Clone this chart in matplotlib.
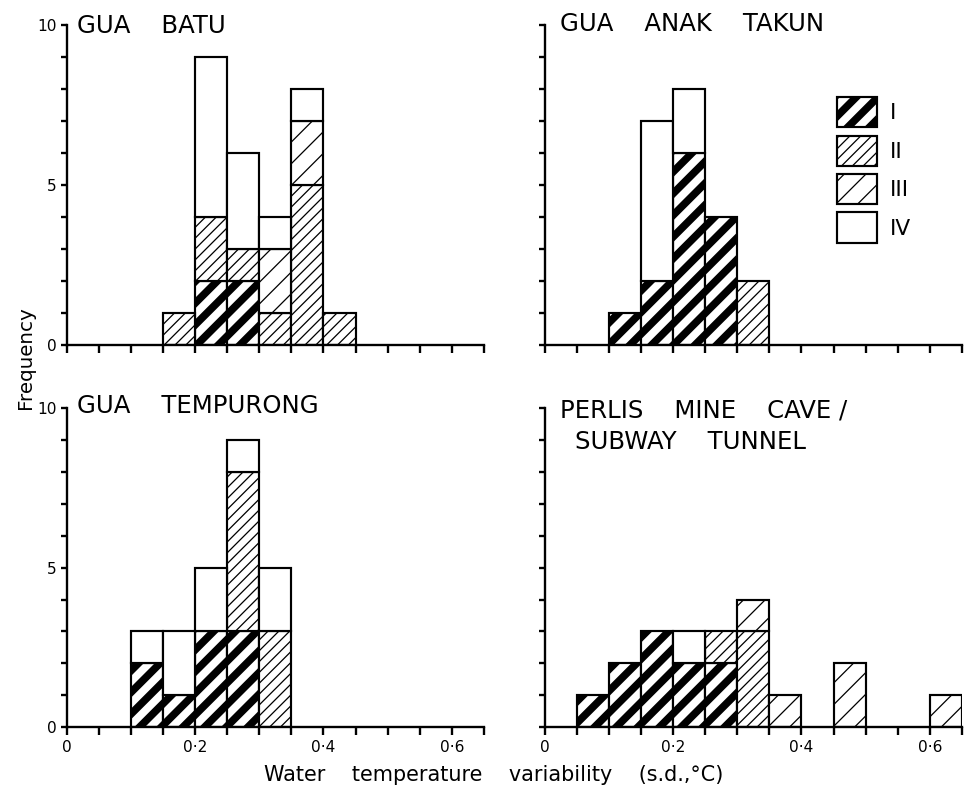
import numpy as np
import matplotlib
matplotlib.use("Agg")
import matplotlib.pyplot as plt
from matplotlib.patches import Rectangle

# bins of 0.05 s.d. (left edges)
bin_left = [0.00, 0.05, 0.10, 0.15, 0.20, 0.25, 0.30, 0.35, 0.40, 0.45, 0.50, 0.55, 0.60]
bin_width = 0.05

categories = ["I", "II", "III", "IV"]

# GUA BATU
batu_I = [0, 0, 0, 0, 2, 2, 0, 0, 0, 0, 0, 0, 0]
batu_II = [0, 0, 0, 1, 2, 1, 1, 5, 1, 0, 0, 0, 0]
batu_III = [0, 0, 0, 0, 0, 0, 2, 2, 0, 0, 0, 0, 0]
batu_IV = [0, 0, 0, 0, 5, 3, 1, 1, 0, 0, 0, 0, 0]

# GUA ANAK TAKUN
takun_I = [0, 0, 1, 2, 6, 4, 0, 0, 0, 0, 0, 0, 0]
takun_II = [0, 0, 0, 0, 0, 0, 2, 0, 0, 0, 0, 0, 0]
takun_III = [0, 0, 0, 0, 0, 0, 0, 0, 0, 0, 0, 0, 0]
takun_IV = [0, 0, 0, 5, 2, 0, 0, 0, 0, 0, 0, 0, 0]

# GUA TEMPURONG
tempurong_I = [0, 0, 2, 1, 3, 3, 0, 0, 0, 0, 0, 0, 0]
tempurong_II = [0, 0, 0, 0, 0, 5, 3, 0, 0, 0, 0, 0, 0]
tempurong_III = [0, 0, 0, 0, 0, 0, 0, 0, 0, 0, 0, 0, 0]
tempurong_IV = [0, 0, 1, 2, 2, 1, 2, 0, 0, 0, 0, 0, 0]

# PERLIS MINE CAVE / SUBWAY TUNNEL
perlis_I = [0, 1, 2, 3, 2, 2, 0, 0, 0, 0, 0, 0, 0]
perlis_II = [0, 0, 0, 0, 0, 1, 3, 0, 0, 0, 0, 0, 0]
perlis_III = [0, 0, 0, 0, 0, 0, 1, 1, 0, 2, 0, 0, 1]
perlis_IV = [0, 0, 0, 0, 1, 0, 0, 0, 0, 0, 0, 0, 0]

x_ticks = [0.00, 0.05, 0.10, 0.15, 0.20, 0.25, 0.30, 0.35, 0.40, 0.45, 0.50, 0.55, 0.60, 0.65]
x_ticklabels = ["0", "", "", "", "0\u00b72", "", "", "", "0\u00b74", "", "", "", "0\u00b76", ""]
y_ticks = [0, 1, 2, 3, 4, 5, 6, 7, 8, 9, 10]
y_ticklabels = ["0", "", "", "", "", "5", "", "", "", "", "10"]

# hatch per category: (hatch, hatch linewidth)
style = {
    "I": ("//", 4.2),
    "II": ("////", 0.7),
    "III": ("//", 0.7),
    "IV": ("", 0.7),
}

DPI = 130
plt.rcParams["font.family"] = ["DejaVu Sans"]
plt.rcParams["hatch.color"] = "black"

fig = plt.figure(figsize=(967 / DPI, 795 / DPI), dpi=DPI)

ax_pos = {
    "tl": [0.0693, 0.566, 0.431, 0.4025],
    "tr": [0.5636, 0.566, 0.431, 0.4025],
    "bl": [0.0693, 0.0855, 0.431, 0.401],
    "br": [0.5636, 0.0855, 0.431, 0.401],
}


def stacked_hist(ax, counts):
    bottom = np.zeros(len(bin_left))
    for cat, vals in zip(categories, counts):
        vals = np.array(vals, dtype=float)
        hatch, hlw = style[cat]
        mask = vals > 0
        bars = ax.bar(np.array(bin_left)[mask], vals[mask], width=bin_width,
                      bottom=bottom[mask], align="edge", facecolor="white",
                      edgecolor="black", linewidth=1.2, hatch=hatch, zorder=2)
        for b in bars:
            if hasattr(b, "set_hatch_linewidth"):
                b.set_hatch_linewidth(hlw)
        bottom = bottom + vals


def style_axes(ax, xlabels, ylabels):
    ax.set_xlim(0, 0.65)
    ax.set_ylim(0, 10)
    for s in ["top", "right"]:
        ax.spines[s].set_visible(False)
    for s in ["left", "bottom"]:
        ax.spines[s].set_linewidth(1.3)
        ax.spines[s].set_zorder(3)
    ax.set_xticks(x_ticks)
    ax.set_xticklabels(x_ticklabels if xlabels else [])
    ax.set_yticks(y_ticks)
    ax.set_yticklabels(y_ticklabels if ylabels else [])
    ax.tick_params(axis="x", direction="out", length=4.5, width=1.3, pad=2.5, labelsize=8.5)
    ax.tick_params(axis="y", direction="out", length=3.6, width=1.3, pad=2, labelsize=8.5)


panels = [
    ("tl", [batu_I, batu_II, batu_III, batu_IV], ["GUA    BATU"], [(0.016, 10.35)], False, True),
    ("tr", [takun_I, takun_II, takun_III, takun_IV], ["GUA    ANAK    TAKUN"], [(0.023, 10.41)], False, False),
    ("bl", [tempurong_I, tempurong_II, tempurong_III, tempurong_IV], ["GUA    TEMPURONG"], [(0.016, 10.44)], True, True),
    ("br", [perlis_I, perlis_II, perlis_III, perlis_IV], ["PERLIS    MINE    CAVE /", "SUBWAY    TUNNEL"],
     [(0.023, 10.29), (0.047, 9.32)], True, False),
]

axes = {}
for key, counts, titles, title_xy, xlab, ylab in panels:
    ax = fig.add_axes(ax_pos[key])
    axes[key] = ax
    stacked_hist(ax, counts)
    style_axes(ax, xlab, ylab)
    for t, (tx, ty) in zip(titles, title_xy):
        ax.text(tx, ty, t, fontsize=13.5, ha="left", va="top", clip_on=False)

# legend
handles = []
for cat in categories:
    hatch, hlw = style[cat]
    handles.append(Rectangle((0, 0), 1, 1, facecolor="white", edgecolor="black",
                             linewidth=1.2, hatch=hatch))
leg = axes["tr"].legend(handles, categories, loc="upper left", bbox_to_anchor=(0.70, 0.775),
                        frameon=False, fontsize=12, handlelength=1.85, handleheight=1.77,
                        labelspacing=0.38, handletextpad=0.6, borderpad=0, borderaxespad=0)
for cat, h in zip(categories, leg.legend_handles):
    if hasattr(h, "set_hatch_linewidth"):
        h.set_hatch_linewidth(style[cat][1])

fig.text(0.511, 0.025, "Water    temperature    variability    (s.d.,\u00b0C)",
         ha="center", va="center", fontsize=11.5)
fig.text(0.026, 0.55, "Frequency", rotation=90, ha="center", va="center", fontsize=11)

fig.savefig("out.png", dpi=DPI)
